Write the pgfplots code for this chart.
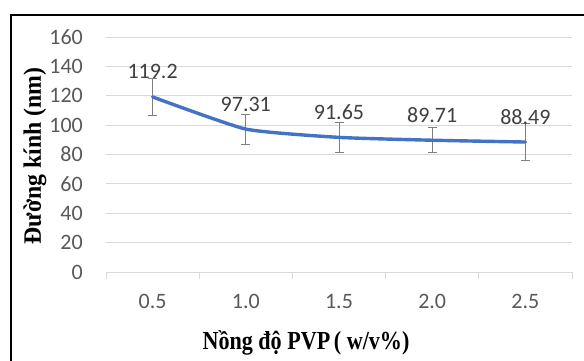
\documentclass[border=0pt]{standalone}
\usepackage{fontspec}
\setmainfont{Carlito}
\newfontfamily\tnr{Liberation Serif}
\usepackage{graphicx}
\usepackage{pgfplots}
\pgfplotsset{compat=1.18}
\usepackage{pgfplotstable}
\definecolor{lineblue}{HTML}{4472C4}
\definecolor{ticktxt}{HTML}{595959}
\definecolor{lbltxt}{HTML}{404040}
\definecolor{gridc}{HTML}{D9D9D9}
\definecolor{errc}{HTML}{7F7F7F}
\pgfplotstableread{
x y e lab
0.5 119.2 12.6 119.2
1.0 97.31 10.2 97.31
1.5 91.65 10.5 91.65
2.0 89.71 8.6 89.71
2.5 88.49 12.8 88.49
}\datatable
\begin{document}
\begin{tikzpicture}[x=1pt,y=1pt]
\useasboundingbox (0,0) rectangle (584,361);
\clip (0,0) rectangle (584,361);
\fill[white] (0,0) rectangle (584,361);
\begin{axis}[
  at={(106pt,89pt)}, anchor=south west,
  scale only axis, width=466pt, height=235pt,
  xmin=0.25, xmax=2.75, ymin=0, ymax=160,
  xtick={0.25,0.75,1.25,1.75,2.25,2.75},
  x tick label as interval,
  xticklabels={0.5,1.0,1.5,2.0,2.5},
  ytick={0,20,...,160},
  /pgf/number format/assume math mode=true,
  tick align=outside, major tick length=7pt,
  xtick style={gridc, line width=0.9pt},
  ytick style={draw=none},
  axis lines*=left,
  axis line style={-},
  x axis line style={gridc, line width=0.9pt},
  y axis line style={draw=none},
  ymajorgrids, major grid style={gridc, line width=0.9pt},
  tick label style={font=\fontsize{22}{26}\selectfont, text=ticktxt, inner sep=0pt},
  yticklabel style={xshift=-16pt},
  xticklabel style={anchor=base, yshift=-30pt},
  clip=false,
]
\addplot[errc, draw=none,
  error bars/.cd, y dir=both, y explicit,
  error bar style={errc, line width=0.9pt},
  error mark options={errc, rotate=90, mark size=4.5pt, line width=0.9pt},
  ] table[x=x, y=y, y error=e] {\datatable};
\addplot[lineblue, line width=3.4pt, smooth, tension=0.3, line cap=round, line join=round]
  table[x=x, y=y] {\datatable};
\addplot[draw=none, nodes near coords, point meta=explicit symbolic,
  nodes near coords style={anchor=base, yshift=18pt, inner sep=0pt, text=lbltxt, font=\fontsize{22}{26}\selectfont}]
  table[x=x, y=y, meta=lab] {\datatable};
\end{axis}
\node[rotate=90, anchor=center, inner sep=0pt] at (35,205) {\scalebox{0.95}[1]{\tnr\bfseries\fontsize{25}{29}\selectfont Đường kính (nm)}};
\node[anchor=base, inner sep=0pt] at (306,11) {\scalebox{0.85}[1]{\tnr\bfseries\fontsize{26}{30}\selectfont Nồng độ PVP\,( w/v\%)}};
\draw[black, line width=2pt] (11,-20) rectangle (620,346);
\end{tikzpicture}
\end{document}
